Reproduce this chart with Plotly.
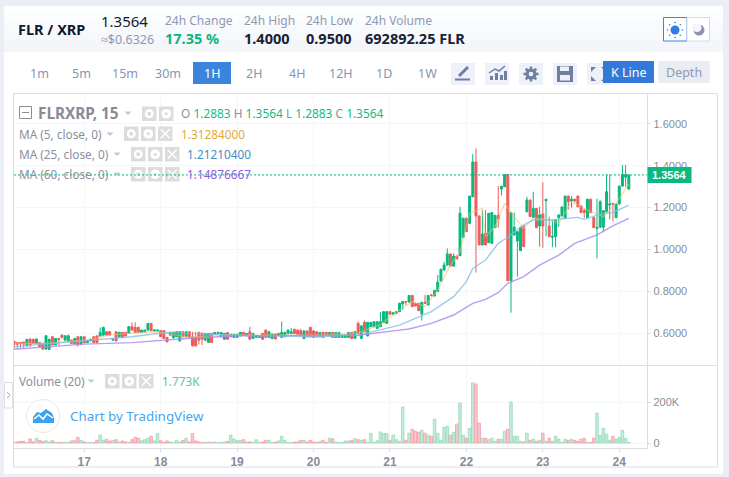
import numpy as np
import plotly.graph_objects as go

W, H = 729, 477

# candle values, one per hour
opens = [
    .560, .555, .555, .557, .538, .571, .570, .550, .555, .550,
    .523, .522, .582, .543, .574, .590, .566, .562, .566, .550,
    .582, .547, .582, .554, .562, .582, .586, .586, .590, .606,
    .606, .566, .606, .582, .603, .603, .598, .630, .627, .627,
    .602, .606, .614, .646, .610, .610, .611, .611, .579, .590,
    .578, .582, .562, .606, .582, .606, .582, .579, .602, .598,
    .566, .555, .598, .595, .598, .582, .570, .602, .582, .579,
    .579, .586, .603, .586, .606, .574, .579, .579, .598, .614,
    .579, .574, .595, .590, .579, .582, .598, .598, .618, .614,
    .611, .574, .610, .627, .610, .606, .582, .603, .603, .586,
    .603, .579, .579, .579, .579, .579, .603, .574, .646, .574,
    .651, .586, .630, .630, .622, .630, .650, .646, .702, .690,
    .694, .702, .739, .751, .748, .780, .742, .742, .691, .747,
    .734, .782, .777, .798, .849, .901, .925, .978, .920, .968,
    .970, 1.058, 1.149, 1.125, 1.252, 1.418, 1.160, 1.021, 1.078, 1.032,
    1.029, 1.104, 1.163, 1.289, 1.300, 1.358, .850, 1.069, 1.040, .994,
    1.112, 1.180, 1.236, 1.153, 1.196, 1.112, 1.169, 1.233, 1.112, 1.058,
    1.061, 1.152, 1.160, 1.149, 1.255, 1.232, 1.240, 1.255, 1.208, 1.188,
    1.152, 1.240, 1.153, 1.100, 1.106, 1.106, 1.180, 1.212, 1.220, 1.152,
    1.217, 1.303, 1.345, 1.2883,
]
highs = [
    .562, .557, .556, .558, .572, .573, .572, .573, .557, .552,
    .590, .572, .585, .576, .575, .592, .590, .592, .568, .576,
    .584, .584, .584, .564, .572, .584, .588, .627, .630, .608,
    .608, .570, .608, .605, .605, .605, .632, .651, .651, .630,
    .616, .616, .646, .648, .616, .616, .613, .613, .581, .606,
    .606, .608, .608, .608, .608, .608, .606, .606, .606, .604,
    .600, .600, .600, .605, .605, .604, .600, .604, .596, .596,
    .596, .605, .605, .600, .630, .600, .589, .584, .600, .616,
    .608, .597, .597, .600, .655, .605, .616, .625, .620, .616,
    .620, .612, .612, .629, .612, .608, .604, .605, .605, .604,
    .605, .604, .604, .592, .592, .605, .605, .608, .654, .636,
    .660, .653, .653, .656, .656, .700, .705, .705, .704, .698,
    .704, .745, .752, .753, .782, .782, .744, .744, .749, .782,
    .781, .785, .806, .877, .907, .941, 1.005, .980, .981, .970,
    1.204, 1.151, 1.151, 1.257, 1.456, 1.483, 1.162, 1.188, 1.188, 1.173,
    1.178, 1.165, 1.303, 1.304, 1.360, 1.360, 1.178, 1.176, 1.087, 1.108,
    1.114, 1.252, 1.238, 1.276, 1.198, 1.204, 1.322, 1.240, 1.157, 1.141,
    1.143, 1.167, 1.205, 1.257, 1.257, 1.255, 1.242, 1.257, 1.210, 1.190,
    1.242, 1.242, 1.155, 1.242, 1.236, 1.187, 1.359, 1.359, 1.222, 1.219,
    1.305, 1.404, 1.404, 1.3564,
]
lows = [
    .522, .523, .527, .527, .536, .538, .548, .548, .535, .522,
    .520, .520, .543, .542, .543, .575, .560, .556, .548, .545,
    .535, .540, .550, .552, .560, .552, .552, .584, .586, .588,
    .588, .563, .561, .580, .578, .584, .596, .612, .600, .600,
    .600, .604, .612, .611, .608, .608, .582, .574, .557, .585,
    .572, .580, .560, .580, .580, .578, .535, .535, .545, .543,
    .560, .553, .555, .593, .596, .580, .568, .570, .580, .577,
    .577, .584, .590, .584, .570, .572, .577, .577, .570, .579,
    .577, .570, .571, .588, .577, .580, .596, .596, .598, .594,
    .590, .570, .582, .582, .579, .582, .580, .579, .590, .584,
    .579, .577, .577, .577, .577, .577, .574, .572, .598, .572,
    .606, .584, .628, .628, .620, .628, .648, .644, .690, .688,
    .692, .700, .710, .735, .745, .726, .729, .707, .659, .740,
    .732, .775, .775, .796, .847, .899, .923, .920, .918, .954,
    .968, 1.056, 1.085, 1.123, 1.250, .889, 1.021, 1.019, 1.021, 1.030,
    1.027, 1.102, 1.104, 1.258, 1.298, .850, .697, 1.067, .870, .992,
    1.013, 1.178, 1.157, 1.151, 1.104, 1.013, 1.008, 1.064, 1.061, 1.010,
    1.010, 1.108, 1.158, 1.147, 1.190, 1.200, 1.225, 1.202, 1.174, 1.150,
    1.150, 1.174, 1.104, .957, 1.104, 1.082, 1.178, 1.144, 1.136, 1.150,
    1.215, 1.301, 1.300, 1.2883,
]
closes = [
    .546, .546, .550, .547, .570, .538, .550, .571, .535, .523,
    .587, .570, .543, .574, .570, .579, .587, .587, .550, .574,
    .543, .582, .554, .562, .570, .554, .554, .602, .627, .590,
    .590, .569, .562, .603, .579, .586, .630, .614, .602, .602,
    .614, .614, .646, .611, .614, .614, .582, .574, .557, .603,
    .604, .606, .606, .582, .606, .579, .539, .538, .566, .570,
    .598, .598, .555, .603, .603, .602, .598, .570, .594, .594,
    .594, .603, .590, .598, .570, .598, .587, .582, .570, .579,
    .606, .595, .571, .598, .603, .603, .614, .606, .598, .594,
    .590, .610, .582, .582, .579, .582, .602, .579, .590, .602,
    .579, .602, .602, .590, .590, .603, .574, .606, .598, .634,
    .606, .651, .651, .654, .654, .654, .702, .702, .690, .697,
    .702, .742, .751, .748, .780, .726, .729, .707, .747, .742,
    .779, .780, .804, .844, .905, .925, .978, .920, .968, .954,
    1.173, 1.149, 1.085, 1.255, 1.418, 1.160, 1.021, 1.074, 1.021, 1.173,
    1.176, 1.163, 1.145, 1.302, 1.358, .850, 1.176, 1.106, 1.085, 1.106,
    1.013, 1.236, 1.157, 1.196, 1.104, 1.165, 1.112, 1.240, 1.061, 1.062,
    1.141, 1.165, 1.203, 1.255, 1.228, 1.240, 1.232, 1.204, 1.176, 1.176,
    1.240, 1.176, 1.104, 1.105, 1.228, 1.185, 1.276, 1.217, 1.217, 1.217,
    1.303, 1.359, 1.358, 1.3564,
]
# volume in thousands
volumes = [
    3, 5, 8, 8, 2, 20, 6, 23, 13, 8,
    11, 5, 11, 3, 2, 3, 3, 3, 10, 13,
    28, 13, 5, 3, 2, 2, 13, 39, 13, 18,
    10, 13, 16, 5, 10, 5, 2, 16, 28, 23,
    11, 16, 23, 33, 10, 46, 11, 3, 10, 5,
    3, 13, 5, 13, 23, 5, 46, 10, 5, 3,
    2, 5, 2, 5, 2, 3, 5, 8, 39, 20,
    11, 13, 16, 5, 6, 3, 16, 3, 5, 13,
    13, 2, 5, 10, 33, 13, 3, 2, 5, 5,
    13, 13, 5, 13, 5, 2, 8, 13, 3, 23,
    20, 5, 3, 3, 10, 10, 13, 21, 16, 13,
    16, 3, 46, 3, 11, 54, 46, 46, 13, 39,
    16, 8, 175, 13, 48, 67, 57, 52, 62, 48,
    38, 33, 116, 48, 13, 77, 82, 38, 52, 92,
    195, 38, 23, 72, 293, 288, 97, 23, 23, 16,
    23, 8, 18, 18, 57, 67, 200, 33, 33, 8,
    5, 48, 13, 18, 8, 13, 48, 8, 23, 8,
    33, 18, 3, 18, 13, 18, 13, 8, 18, 23,
    3, 3, 23, 146, 38, 72, 43, 13, 33, 18,
    28, 62, 23, 1.773,
]

# moving averages
ma5_x = [0, 10, 22, 30, 37, 45, 55, 65, 80, 95, 108, 115, 121, 125, 129, 133, 137, 140, 143, 147, 148, 151, 154, 157, 160, 163, 167, 171, 175, 180, 185, 189, 193]
ma5_y = [.55, .55, .565, .59, .60, .605, .58, .59, .59, .59, .60, .64, .71, .75, .726, .806, .925, .989, 1.173, 1.196, 1.061, 1.109, 1.22, 1.157, 1.101, 1.149, 1.144, 1.125, 1.228, 1.188, 1.157, 1.22, 1.313]
ma25_x = [0, 22, 37, 48, 69, 95, 108, 121, 126, 131, 138, 142, 144, 148, 152, 155, 160, 163, 168, 173, 177, 179, 184, 188, 193]
ma25_y = [.535, .562, .582, .603, .59, .582, .59, .638, .67, .702, .774, .846, .909, .949, 1.029, 1.058, 1.117, 1.141, 1.141, 1.149, 1.153, 1.144, 1.169, 1.176, 1.212]
ma60_x = [0, 22, 37, 54, 70, 94, 108, 121, 124, 131, 138, 144, 148, 152, 155, 160, 165, 171, 176, 183, 188, 193]
ma60_y = [.522, .547, .554, .574, .587, .589, .589, .614, .619, .646, .686, .742, .761, .793, .838, .87, .925, .973, 1.029, 1.069, 1.112, 1.149]

hours = list(range(len(closes)))
day_ticks = [22, 46, 70, 94, 118, 142, 166, 190]
day_labels = ['17', '18', '19', '20', '21', '22', '23', '24']
price_ticks = [0.6, 0.8, 1.0, 1.2, 1.4, 1.6]
price_labels = ['0.6000', '0.8000', '1.0000', '1.2000', '1.4000', '1.6000']
last_price = 1.3564

UP = '#07b87e'
DOWN = '#ef5b5b'
GRID = '#f5f6f8'
FRAME = '#dcdee2'
AXIS_TEXT = '#878d9a'
UI_FONT = 'Noto Sans'
CHART_FONT = 'Liberation Sans'

shapes = []
notes = []


def px(x):
    return x / W


def py(y):
    return 1 - y / H


def rect(x0, y0, x1, y1, fill, line=None, layer='above', lw=1):
    shapes.append(dict(type='rect', xref='paper', yref='paper', layer=layer,
                       x0=px(x0), x1=px(x1), y0=py(y0), y1=py(y1), fillcolor=fill,
                       line=dict(color=line or fill, width=lw if line else 0)))


def circle(cx, cy, r, fill, line=None):
    shapes.append(dict(type='circle', xref='paper', yref='paper', layer='above',
                       x0=px(cx - r), x1=px(cx + r), y0=py(cy - r), y1=py(cy + r),
                       fillcolor=fill, line=dict(color=line or fill, width=1 if line else 0)))


def path(points, color, fill=False, width=1.5):
    d = 'M ' + ' L '.join(f'{px(a):.5f},{py(b):.5f}' for a, b in points)
    if fill:
        d += ' Z'
    shapes.append(dict(type='path', xref='paper', yref='paper', layer='above', path=d,
                       fillcolor=color if fill else 'rgba(0,0,0,0)',
                       line=dict(color=color, width=0 if fill else width)))


def text(x, y, s, size=12, color='#1a2233', bold=False, anchor='left', font=UI_FONT):
    notes.append(dict(xref='paper', yref='paper', x=px(x), y=py(y), text=s, showarrow=False,
                      xanchor=anchor, yanchor='middle', borderpad=0, borderwidth=0,
                      font=dict(family=font, size=size, color=color, weight=700 if bold else 400)))


# page panels
rect(4, 6, 723, 474, 'white', layer='below')
bands = ['#ffffff', '#fcfdfe', '#fafbfd', '#f8f9fc', '#f6f8fb', '#f4f6fa', '#f2f5fa']
for k, c in enumerate(bands):
    rect(4, 6 + k * 46 / len(bands), 723, 6 + (k + 1) * 46 / len(bands), c, layer='below')
rect(13.5, 93.5, 717.5, 467, 'white', FRAME, layer='below')

# header
text(18, 29, 'FLR / XRP', 14.5, '#111a2c', True)
text(101, 21, '1.3564', 15, '#111a2c')
text(101, 39.5, '≈$0.6326', 12.5, '#8d99b3')
text(165, 21, '24h Change', 12, '#8d99b3')
text(165, 38, '17.35 %', 14.5, '#0fb37e', True)
text(244, 21, '24h High', 12, '#8d99b3')
text(244, 38, '1.4000', 14.5, '#1a2233', True)
text(306, 21, '24h Low', 12, '#8d99b3')
text(306, 38, '0.9500', 14.5, '#1a2233', True)
text(365, 21, '24h Volume', 12, '#8d99b3')
text(365, 38, '692892.25 FLR', 14.5, '#1a2233', True)

# theme toggle
rect(663.5, 17.5, 687, 41, 'white', '#3b84dc')
rect(687, 17.5, 709.5, 41, 'white', '#cfdcea')
circle(675, 30, 4.5, '#2f7de0')
for a in np.arange(0, 2 * np.pi, np.pi / 4):
    circle(675 + 7.5 * np.cos(a), 30 + 7.5 * np.sin(a), 0.8, '#2f7de0')
circle(699, 30, 5.5, '#8d95ad')
circle(697, 27.5, 4.5, '#f4f6fa')

# period buttons
rect(193, 62, 231, 84, '#3b84dc')
for label, cx in zip(['1m', '5m', '15m', '30m', '2H', '4H', '12H', '1D', '1W'],
                     [39.5, 81, 125, 168, 254, 297, 341, 384, 427]):
    text(cx, 73.5, label, 12.5, '#8795b0', anchor='center')
text(212, 73.5, '1H', 12.5, 'white', anchor='center')

# tool icons
ICON = '#6f7f9f'
for x0 in [451, 485, 519, 553, 587]:
    rect(x0, 63, x0 + 24, 85, '#eef1f9')
path([(459, 76), (468, 67)], ICON, width=3)
path([(455, 79.5), (470, 79.5)], ICON, width=2)
for bx, top in [(490, 76), (495, 73), (500, 75), (504, 71)]:
    rect(bx, top, bx + 3, 80, ICON)
path([(489, 73), (495, 69), (499, 71), (505, 66)], ICON, width=1.5)
for a in np.arange(0, 2 * np.pi, np.pi / 4):
    path([(531, 74), (531 + 7.5 * np.cos(a), 74 + 7.5 * np.sin(a))], ICON, width=2.5)
circle(531, 74, 5.5, ICON)
circle(531, 74, 2.3, '#eef1f9')
rect(557, 66, 573, 82, ICON)
rect(560, 66.5, 569, 71, '#eef1f9')
rect(560, 75, 570, 80.5, '#eef1f9')
path([(591, 67), (596, 67), (591, 72)], ICON, fill=True)
path([(591, 81), (596, 81), (591, 76)], ICON, fill=True)
path([(606, 67), (601, 67), (606, 72)], ICON, fill=True)
path([(606, 81), (601, 81), (606, 76)], ICON, fill=True)

rect(603, 61, 654, 83, '#3379d9')
text(628.5, 72.5, 'K Line', 12.5, 'white', anchor='center')
rect(658, 61, 710, 83, '#e9edf2')
text(684, 72.5, 'Depth', 12.5, '#8e9ab5', anchor='center')

# chart legend rows
BOX = '#dcdcdc'


def legend_boxes(x0, y0, with_close=True):
    for k, kind in enumerate(['eye', 'gear', 'x'] if with_close else ['eye', 'gear']):
        x = x0 + k * 17
        rect(x, y0, x + 14.5, y0 + 14.5, BOX)
        cx, cy = x + 7.25, y0 + 7.25
        if kind == 'eye':
            circle(cx, cy, 4.5, 'white')
            circle(cx, cy, 2, BOX)
        elif kind == 'gear':
            circle(cx, cy, 4.8, 'white')
            circle(cx, cy, 1.6, BOX)
        else:
            path([(cx - 4.5, cy - 4.5), (cx + 4.5, cy + 4.5)], 'white', width=1.5)
            path([(cx - 4.5, cy + 4.5), (cx + 4.5, cy - 4.5)], 'white', width=1.5)


def caret(cx, cy):
    path([(cx - 3.5, cy - 1.5), (cx + 3.5, cy - 1.5), (cx, cy + 2)], '#c4c7cd', fill=True)


rect(19.5, 106.5, 31.5, 118.5, 'white', '#888d96')
path([(22, 112.5), (29, 112.5)], '#888d96', width=1)
text(38, 113, 'FLRXRP, 15', 15.3, '#878c97', True)
caret(128, 113)
legend_boxes(142, 106.5, with_close=False)
g = 'style="color:#0fbc87"'
text(181, 113, f'O <span {g}>1.2883</span> H <span {g}>1.3564</span> L <span {g}>1.2883</span> C <span {g}>1.3564</span>',
     11.9, '#8a8f9b')

text(19, 134, 'MA (5, close, 0)', 11.8, '#8a8f9b')
caret(110, 134)
legend_boxes(124, 126.5)
text(181, 134, '1.31284000', 11.8, '#e0aa3e')
text(19, 154, 'MA (25, close, 0)', 11.8, '#8a8f9b')
caret(117, 154)
legend_boxes(131, 147)
text(187, 154, '1.21210400', 11.8, '#3f8fc8')
text(19, 174, 'MA (60, close, 0)', 11.8, '#8a8f9b')
caret(117, 174)
legend_boxes(131, 167)
text(187, 174, '1.14876667', 11.8, '#8a5fe0')

text(19, 381, 'Volume (20)', 11.8, '#8a8f9b')
caret(91, 381)
legend_boxes(105, 374)
text(162, 381, '1.773K', 11.8, '#6dc191')

# tradingview badge
circle(43, 416, 16.5, 'white', '#e8e9ea')
path([(33, 423), (33, 417), (37, 412), (41, 413), (46, 409), (52, 413), (54, 418), (54, 423)], '#3ba3ef', fill=True)
path([(34, 419), (39, 415), (43, 419), (47, 414), (53, 418)], 'white', width=1.5)
text(70, 416, 'Chart by TradingView', 13.4, '#46a6ee')

# side handle
rect(4.5, 382.5, 12.5, 408, 'white', '#dddfe3')
path([(7, 392), (10, 395), (7, 398)], '#a8acb4', width=1)

# last price line and tag
shapes.append(dict(type='line', xref='x', yref='y', layer='above', x0=-0.05, x1=198.8,
                   y0=last_price, y1=last_price, line=dict(color='#07b87e', width=1, dash='2px,2px')))
rect(647.5, 167, 691.5, 183, '#0bb97f')
text(669.5, 175, f'{last_price:.4f}', 11, 'white', True, anchor='center', font=CHART_FONT)

fig = go.Figure()

fig.add_trace(go.Candlestick(
    x=hours, open=opens, high=highs, low=lows, close=closes,
    increasing=dict(line=dict(color=UP, width=1), fillcolor=UP),
    decreasing=dict(line=dict(color=DOWN, width=1), fillcolor=DOWN),
    whiskerwidth=0, showlegend=False, xaxis='x', yaxis='y',
))

for xs, ys, color in [(ma5_x, ma5_y, 'rgba(240,190,110,0.55)'),
                      (ma25_x, ma25_y, 'rgba(130,190,230,0.8)'),
                      (ma60_x, ma60_y, 'rgba(175,140,240,0.85)')]:
    fig.add_trace(go.Scatter(x=xs, y=ys, mode='lines', line=dict(color=color, width=1.4),
                             showlegend=False, hoverinfo='skip', xaxis='x', yaxis='y'))

vol_fill = ['rgba(7,184,126,0.25)' if c >= o else 'rgba(250,90,110,0.33)' for o, c in zip(opens, closes)]
vol_edge = ['#9ad8b8' if c >= o else '#f49aa5' for o, c in zip(opens, closes)]
fig.add_trace(go.Bar(x=hours, y=volumes, width=0.8, marker=dict(color=vol_fill, line=dict(color=vol_edge, width=0.8)),
                     showlegend=False, xaxis='x2', yaxis='y2'))

x_common = dict(range=[-0.05, 198.8], tickvals=day_ticks, showgrid=True, gridcolor=GRID, gridwidth=1, zeroline=False)
fig.update_layout(
    width=W, height=H,
    margin=dict(l=0, r=0, t=0, b=0),
    paper_bgcolor='#ebeef7',
    plot_bgcolor='rgba(0,0,0,0)',
    barmode='overlay',
    boxgap=0.12,
    xaxis=dict(domain=[14 / W, 647.3 / W], anchor='y', showticklabels=False, ticks='',
               rangeslider=dict(visible=False), **x_common),
    xaxis2=dict(domain=[14 / W, 647.3 / W], anchor='y2', ticktext=day_labels, ticks='outside', ticklen=3,
                tickcolor=FRAME, showline=True, linecolor=FRAME, matches='x',
                tickfont=dict(family=CHART_FONT, size=12, color=AXIS_TEXT, weight=700), **x_common),
    yaxis=dict(domain=[1 - 365 / H, 1 - 94 / H], range=[0.4469, 1.7435], side='right', anchor='x',
               tickvals=price_ticks, ticktext=price_labels, ticks='outside', ticklen=3, tickcolor=FRAME,
               showline=True, linecolor=FRAME, gridcolor=GRID, zeroline=False,
               tickfont=dict(family=CHART_FONT, size=11, color=AXIS_TEXT)),
    yaxis2=dict(domain=[1 - 448 / H, 1 - 366 / H], range=[-24.4, 375.6], side='right', anchor='x2',
                tickvals=[0, 200], ticktext=['0', '200K'], ticks='outside', ticklen=3, tickcolor=FRAME,
                showline=True, linecolor=FRAME, gridcolor=GRID, zeroline=False,
                tickfont=dict(family=CHART_FONT, size=11, color=AXIS_TEXT)),
    shapes=shapes + [dict(type='line', xref='paper', yref='paper', layer='below',
                          x0=px(14), x1=px(717), y0=py(365.5), y1=py(365.5),
                          line=dict(color=FRAME, width=1))],
    annotations=notes,
)

fig.write_html("out.html", post_script="document.body.style.margin='0';", config=dict(displayModeBar=False))
